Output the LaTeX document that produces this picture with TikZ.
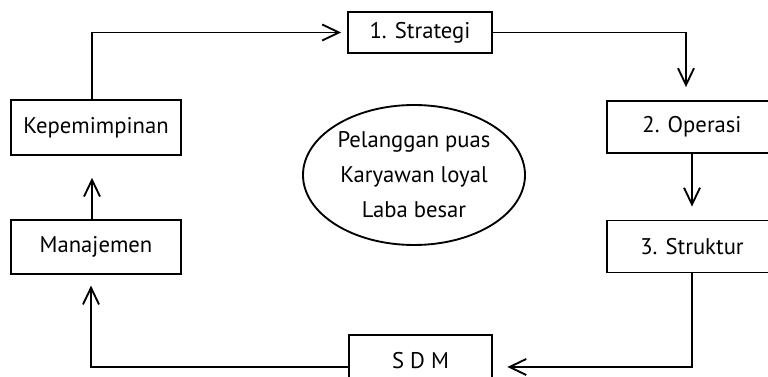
\documentclass[tikz,border=0pt]{standalone}
\usepackage{fontspec}
\setmainfont{PT Sans}
\usetikzlibrary{arrows.meta,shapes.geometric}

\begin{document}
\begin{tikzpicture}[x=0.75pt,y=-0.75pt,
	box/.style={draw=black,line width=1.4pt,inner sep=0pt,font=\fontsize{17}{20}\selectfont},
	flow/.style={-{Straight Barb[length=12.5pt,width=12pt]},line width=1.4pt}]

\useasboundingbox (0,0) rectangle (768,377);
\clip (0,0) rectangle (768,377);

%boxes of the cycle
\node[box,minimum width=108pt,minimum height=31pt](strat) at (420,32.5){1. Strategi};
\node[box,minimum width=127.5pt,minimum height=41pt](kep) at (96,127.5){Kepemimpinan};
\node[box,minimum width=127.5pt,minimum height=40.5pt](man) at (96,247){Manajemen};
\node[box,minimum width=127.5pt,minimum height=39pt](oper) at (692,127){2. Operasi};
\node[box,minimum width=127.5pt,minimum height=39pt](struk) at (692,246.5){3. Struktur};
\node[box,minimum width=107pt,minimum height=39pt](sdm) at (420.5,361){S D M};

%goal in the middle
\node[box,ellipse,minimum width=166.5pt,minimum height=105pt,align=center,
	font=\fontsize{17}{26.25}\selectfont](goal) at (414,175)
	{Pelanggan puas\\Karyawan loyal\\Laba besar};

%draw the flow
\draw[flow,shorten >=4.5pt]([xshift=-3pt]kep.north)|-(strat.west);
\draw[flow,shorten >=9.75pt](strat.east)-|([xshift=-4.5pt]oper.north);
\draw[flow,shorten >=9.75pt](oper.south)--(struk.north);
\draw[flow,shorten >=11pt](struk.south)|-([yshift=-4.5pt]sdm.east);
\draw[flow,shorten >=8pt]([yshift=-4.5pt]sdm.west)-|([xshift=-3.75pt]man.south);
\draw[flow,shorten >=16.5pt]([xshift=-3pt]man.north)--([xshift=-3pt]kep.south);
\end{tikzpicture}
\end{document}
